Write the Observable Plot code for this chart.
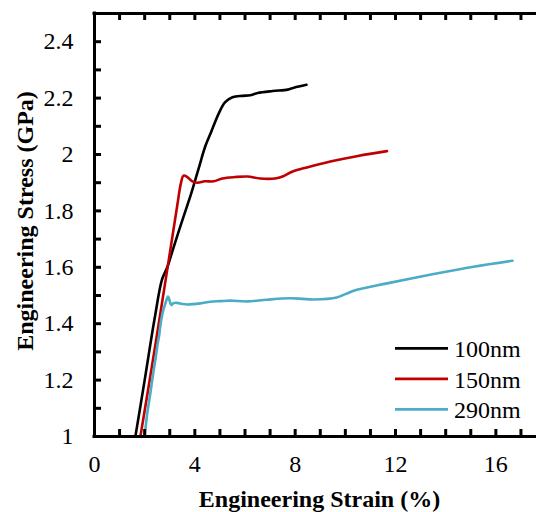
<!DOCTYPE html>
<html>
<head>
<meta charset="utf-8">
<script src="https://cdn.jsdelivr.net/npm/d3@7"></script>
<script src="https://cdn.jsdelivr.net/npm/@observablehq/plot@0.6"></script>
<style>
  body { margin: 0; background: #fff; }
  #wrap { position: relative; width: 536px; height: 512px; }
  #overlay { position: absolute; left: 0; top: 0; pointer-events: none; }
</style>
</head>
<body>
<div id="wrap"></div>
<script>
// ---- data ----
const seriesNames = ["100nm", "150nm", "290nm"];
const seriesColors = ["#000000", "#c00000", "#4bacc6"];

const strain100 = [1.63, 2.0, 2.4, 2.69, 2.9, 3.15, 3.55, 3.85, 4.15, 4.42, 4.65, 4.95, 5.2, 5.5, 5.9, 6.2, 6.5, 7.1, 7.7, 7.95, 8.45];
const stress100 = [1.0, 1.2, 1.42, 1.556, 1.6, 1.67, 1.78, 1.86, 1.95, 2.03, 2.08, 2.145, 2.185, 2.203, 2.208, 2.21, 2.218, 2.225, 2.23, 2.237, 2.247];

const strain150 = [1.83, 2.4, 2.95, 3.3, 3.45, 3.55, 3.7, 3.9, 4.1, 4.4, 4.75, 5.1, 5.6, 6.1, 6.6, 7.2, 7.5, 7.9, 8.5, 9.4, 10.5, 11.66];
const stress150 = [1.0, 1.31, 1.62, 1.82, 1.9, 1.925, 1.92, 1.905, 1.9, 1.905, 1.905, 1.915, 1.92, 1.922, 1.915, 1.915, 1.922, 1.94, 1.955, 1.975, 1.995, 2.012];

const strain290 = [2.0, 2.1, 2.22, 2.35, 2.42, 2.52, 2.58, 2.62, 2.72, 2.82, 2.93, 3.0, 3.06, 3.15, 3.29, 3.5, 3.69, 4.22, 4.62, 5.0, 5.41, 6.08, 6.87, 7.8, 8.3, 8.73, 9.66, 10.0, 10.46, 11.66, 13.52, 15.11, 16.66];
const stress290 = [1.0, 1.08, 1.15, 1.23, 1.268, 1.33, 1.36, 1.39, 1.44, 1.47, 1.496, 1.48, 1.466, 1.473, 1.474, 1.47, 1.468, 1.472, 1.478, 1.48, 1.482, 1.479, 1.485, 1.49, 1.488, 1.486, 1.493, 1.505, 1.52, 1.543, 1.576, 1.602, 1.623];

const xTickLabels = [0, 4, 8, 12, 16];
const yTickLabels = [1, 1.2, 1.4, 1.6, 1.8, 2, 2.2, 2.4];
const xMinorTicks = d3.range(1, 18);
const yMinorTicks = d3.range(11, 25).map(d => d / 10);
const xTitle = "Engineering Strain (%)";
const yTitle = "Engineering Stress (GPa)";

// ---- table ----
const strains = [strain100, strain150, strain290];
const stresses = [stress100, stress150, stress290];
const rows = seriesNames.flatMap((name, i) =>
  strains[i].map((s, j) => ({series: name, strain: s, stress: stresses[i][j]})));

const W = 536, H = 512;
const mL = 94, mR = 0, mT = 13, mB = 76;
const frameW = W - mL - mR, frameH = H - mT - mB;
const xDomain = [0, 17.62], yDomain = [1, 2.5];
const tickLen = 7;
const font = "'Liberation Serif', 'Times New Roman', serif";

// tick lengths expressed in data units of each axis
const yPerPx = (yDomain[1] - yDomain[0]) / frameH;
const xPerPx = (xDomain[1] - xDomain[0]) / frameW;

const chart = Plot.plot({
  width: W,
  height: H,
  marginLeft: mL,
  marginRight: mR,
  marginTop: mT,
  marginBottom: mB,
  style: {fontFamily: font, fontSize: "24px", color: "#000", background: "#fff"},
  x: {domain: xDomain, axis: null},
  y: {domain: yDomain, axis: null},
  color: {domain: seriesNames, range: seriesColors},
  marks: [
    Plot.line(rows, {x: "strain", y: "stress", z: "series", stroke: "series", strokeWidth: 2.6, curve: "catmull-rom", strokeLinejoin: "round"}),
    // frame lines
    Plot.ruleX([xDomain[0]], {strokeWidth: 3, strokeLinecap: "square"}),
    Plot.ruleY([yDomain[0]], {strokeWidth: 3, strokeLinecap: "square"}),
    Plot.ruleY([yDomain[1]], {strokeWidth: 3, strokeLinecap: "square"}),
    // inward minor ticks
    Plot.ruleX(xMinorTicks, {x: d => d, y1: yDomain[0], y2: yDomain[0] + tickLen * yPerPx, stroke: "#000", strokeWidth: 3}),
    Plot.ruleX(xMinorTicks, {x: d => d, y1: yDomain[1], y2: yDomain[1] - tickLen * yPerPx, stroke: "#000", strokeWidth: 3}),
    Plot.ruleY(yMinorTicks, {y: d => d, x1: xDomain[0], x2: xDomain[0] + tickLen * xPerPx, stroke: "#000", strokeWidth: 3}),
    // tick labels
    Plot.axisX({anchor: "bottom", ticks: xTickLabels, tickSize: 0, tickPadding: 18.5, label: null, fontSize: 24}),
    Plot.axisY({anchor: "left", ticks: yTickLabels, tickSize: 0, tickPadding: 21, label: null, fontSize: 24, tickFormat: d => String(d)}),
    // axis titles
    Plot.text([xTitle], {frameAnchor: "bottom", text: d => d, dx: 4, dy: 70.5, lineAnchor: "bottom", textAnchor: "middle", fontWeight: "bold", fontSize: 24}),
    Plot.text([yTitle], {frameAnchor: "left", text: d => d, rotate: -90, dx: -62, dy: -4, lineAnchor: "bottom", textAnchor: "middle", fontWeight: "bold", fontSize: 24})
  ]
});

const wrap = document.getElementById("wrap");
wrap.appendChild(chart);

// ---- legend overlay ----
const ov = d3.select(wrap).append("svg")
  .attr("id", "overlay")
  .attr("width", W).attr("height", H);
seriesNames.forEach((name, i) => {
  const cy = 348.3 + 30.5 * i;
  ov.append("line")
    .attr("x1", 395).attr("x2", 448).attr("y1", cy).attr("y2", cy)
    .attr("stroke", seriesColors[i]).attr("stroke-width", 2.8);
  ov.append("text")
    .attr("x", 454).attr("y", cy + 8.8)
    .attr("font-family", font).attr("font-size", 24).attr("fill", "#000")
    .text(name);
});
</script>
</body>
</html>
